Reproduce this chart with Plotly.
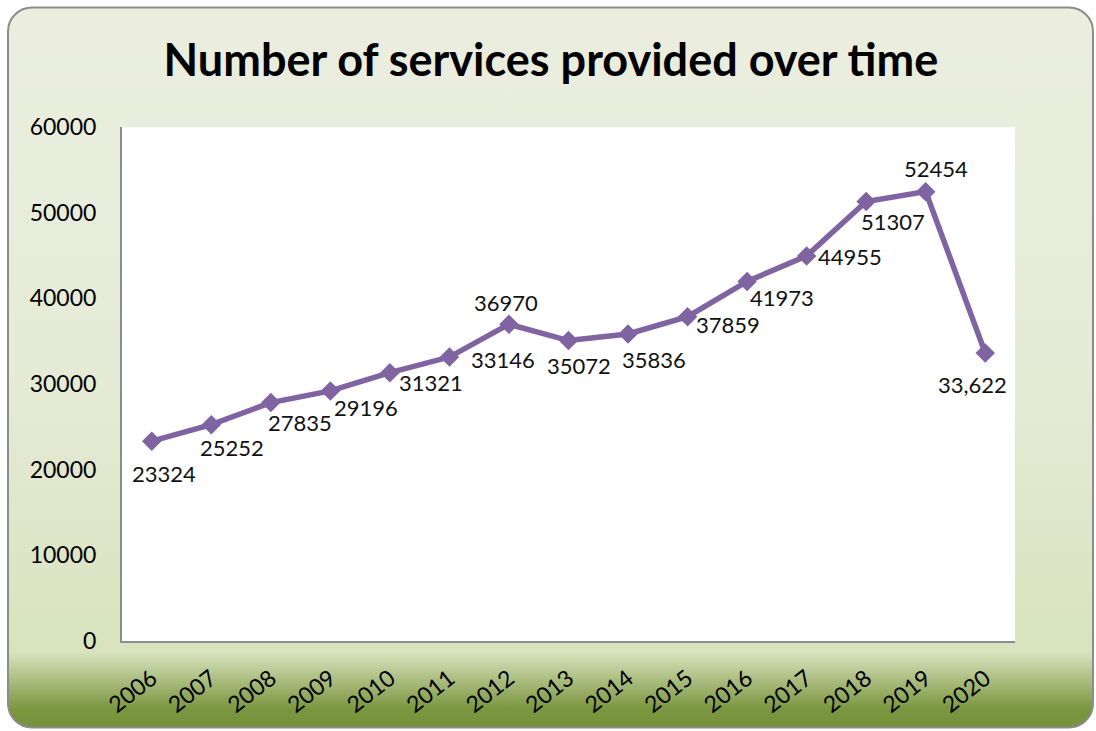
import base64
import plotly.graph_objects as go

# ---- data ----
years = ["2006", "2007", "2008", "2009", "2010", "2011", "2012", "2013",
         "2014", "2015", "2016", "2017", "2018", "2019", "2020"]
services = [23324, 25252, 27835, 29196, 31321, 33146, 36970, 35072,
            35836, 37859, 41973, 44955, 51307, 52454, 33622]
label_texts = ["23324", "25252", "27835", "29196", "31321", "33146", "36970", "35072",
               "35836", "37859", "41973", "44955", "51307", "52454", "33,622"]
y_ticks = [0, 10000, 20000, 30000, 40000, 50000, 60000]

# ---- label offsets in pixels (style) ----
label_dx = [12, 21, 29, 36, 41, 54, -3, 10, 26, 40, 35, 43, 27, 10, -13]
label_dy = [-32, -23, -20, -17, -10, -2, 22, -25, -25, -8, -16, -1, -20, 23, -32]

W, H = 1096, 731
PL, PR, PT, PB = 122, 1015, 127, 641

FONT = "Lato"
PURPLE = "#8064A2"

# background rounded box with gradient as inline SVG
svg = f'''<svg xmlns="http://www.w3.org/2000/svg" width="{W}" height="{H}" viewBox="0 0 {W} {H}">
<defs><linearGradient id="g" x1="0" y1="0" x2="0" y2="1">
<stop offset="0" stop-color="#EBEEDF"/>
<stop offset="0.5" stop-color="#E6EBD7"/>
<stop offset="0.895" stop-color="#D8E3BE"/>
<stop offset="0.975" stop-color="#7A963F"/>
<stop offset="1" stop-color="#76923C"/>
</linearGradient></defs>
<rect x="8" y="7.5" width="1085" height="720" rx="24" ry="24" fill="url(#g)" stroke="#8c8c8c" stroke-width="2"/>
</svg>'''
uri = "data:image/svg+xml;base64," + base64.b64encode(svg.encode()).decode()

fig = go.Figure()
fig.add_trace(go.Scatter(
    x=years, y=services, mode="lines+markers",
    line=dict(color=PURPLE, width=5.5),
    marker=dict(symbol="diamond", size=15, color=PURPLE),
    hoverinfo="skip", showlegend=False, cliponaxis=False,
))

annotations = []
for i, (v, t, dx, dy) in enumerate(zip(services, label_texts, label_dx, label_dy)):
    annotations.append(dict(
        x=i, y=v, xref="x", yref="y", text=t, showarrow=False,
        xanchor="center", yanchor="middle", xshift=dx, yshift=dy,
        font=dict(family=FONT, size=22, color="#111111")))

fig.update_layout(
    width=W, height=H,
    margin=dict(l=0, r=0, t=0, b=0),
    paper_bgcolor="rgba(0,0,0,0)",
    plot_bgcolor="rgba(0,0,0,0)",
    template="none",
    showlegend=False,
    title=dict(text="<b>Number of services provided over time</b>",
               x=0.5027, xanchor="center", y=1 - 60 / H, yanchor="middle",
               font=dict(family=FONT, size=45, color="black")),
    images=[dict(source=uri, xref="paper", yref="paper", x=0, y=1,
                 sizex=1, sizey=1, sizing="stretch", layer="below",
                 xanchor="left", yanchor="top")],
    shapes=[dict(type="rect", xref="x domain", yref="y domain", x0=0, x1=1, y0=0, y1=1,
                 fillcolor="white", line=dict(width=0), layer="below")],
    annotations=annotations,
    xaxis=dict(domain=[PL / W, PR / W], range=[-0.5, 14.5], type="category",
               showgrid=False, zeroline=False, showline=True,
               linecolor="#8c8c8c", linewidth=2, ticks="", tickangle=-38,
               ticklabelstandoff=13, automargin=False,
               tickfont=dict(family=FONT, size=23, color="black")),
    yaxis=dict(domain=[1 - PB / H, 1 - PT / H], range=[0, 60000],
               tickvals=y_ticks, ticktext=[str(v) for v in y_ticks],
               showgrid=False, zeroline=False, showline=True,
               linecolor="#8c8c8c", linewidth=2, ticks="",
               ticklabelstandoff=19, automargin=False,
               tickfont=dict(family=FONT, size=23, color="black")),
)

fig.write_html("out.html")
